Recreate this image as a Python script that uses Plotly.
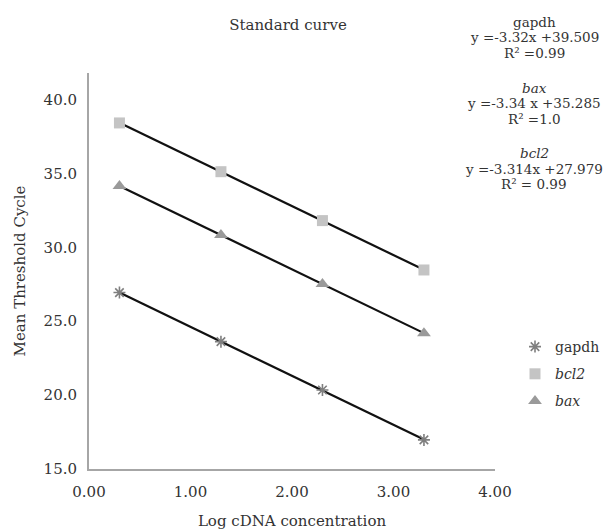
import numpy as np
import plotly.graph_objects as go

# Data
log_conc = [0.3, 1.3, 2.3, 3.3]
gapdh = [26.94, 23.62, 20.35, 16.97]
bcl2 = [38.42, 35.12, 31.81, 28.47]
bax = [34.15, 30.84, 27.52, 24.19]

x_ticks = [0, 1, 2, 3, 4]
x_tick_text = ["0.00", "1.00", "2.00", "3.00", "4.00"]
y_ticks = [15, 20, 25, 30, 35, 40]
y_tick_text = ["15.0", "20.0", "25.0", "30.0", "35.0", "40.0"]

eq_blocks = [
    ("gapdh", "y =-3.32x +39.509", "R² =0.99"),
    ("<i>bax</i>", "y =-3.34 x +35.285", "R² =1.0"),
    ("<i>bcl2</i>", "y =-3.314x +27.979", "R² = 0.99"),
]

FONT = "DejaVu Serif, serif"
TXT = "#333333"
# page body has an 8px margin, so the figure is 8px smaller and offset
W, H = 603, 523
L, R, T, B = 81, 116, 65, 62
PW, PH = W - L - R, H - T - B

fig = go.Figure()

series = [
    ("gapdh", gapdh, dict(symbol="asterisk-open", size=10, color="#7f7f7f",
                         line=dict(width=1.6, color="#7f7f7f"))),
    ("<i>bcl2</i>", bcl2, dict(symbol="square", size=11, color="#c4c4c4",
                              line=dict(width=0))),
    ("<i>bax</i>", bax, dict(symbol="triangle-up", size=12, color="#9a9a9a",
                            line=dict(width=0))),
]

# trendlines (black)
for name, ys, mk in series:
    k, b = np.polyfit(log_conc, ys, 1)
    xs = [min(log_conc), max(log_conc)]
    fig.add_trace(go.Scatter(x=xs, y=[k * v + b for v in xs], mode="lines",
                             line=dict(color="#111111", width=2.2),
                             showlegend=False, hoverinfo="skip"))

for i, (name, ys, mk) in enumerate(series):
    fig.add_trace(go.Scatter(x=log_conc, y=ys, mode="markers", name=name,
                             legendgroup="g%d" % i, marker=mk))

fig.update_layout(
    width=W, height=H,
    margin=dict(l=L, r=R, t=T, b=B, autoexpand=False),
    paper_bgcolor="white", plot_bgcolor="white",
    font=dict(family=FONT, size=15, color=TXT),
    title=dict(text="Standard curve", x=(L + PW / 2 - 4) / W, xanchor="center",
               y=1 - 17 / H, yanchor="middle",
               font=dict(family=FONT, size=15, color=TXT)),
    showlegend=True,
    legend=dict(x=(507 - L) / PW, y=(H - B - 323) / PH, xanchor="left", yanchor="top",
                font=dict(family=FONT, size=14, color=TXT),
                itemwidth=30, tracegroupgap=6, bgcolor="rgba(0,0,0,0)"),
)

fig.update_xaxes(range=[0, 4], tickvals=x_ticks, ticktext=x_tick_text,
                 showgrid=False, zeroline=False, showline=True,
                 linecolor="#a6a6a6", linewidth=2, ticks="",
                 automargin=False, ticklabelstandoff=8,
                 title=dict(text="Log cDNA concentration", standoff=15,
                            font=dict(family=FONT, size=15, color=TXT)),
                 tickfont=dict(family=FONT, size=15, color=TXT))
fig.update_yaxes(range=[15, 41.8], tickvals=y_ticks, ticktext=y_tick_text,
                 showgrid=False, zeroline=False, showline=True,
                 linecolor="#a6a6a6", linewidth=2, ticks="",
                 automargin=False, ticklabelstandoff=7,
                 title=dict(text="Mean Threshold Cycle", standoff=14,
                            font=dict(family=FONT, size=15, color=TXT)),
                 tickfont=dict(family=FONT, size=15, color=TXT))

# equation annotations at top right (figure pixel coords -> paper)
y0 = 22 - 8
for i, (name, eq, r2) in enumerate(eq_blocks):
    for j, t in enumerate([name, eq, r2]):
        py = y0 + i * 65.5 + j * 15.5
        fig.add_annotation(text=t, xref="paper", yref="paper",
                           x=(526 - L) / PW, y=(H - B - py) / PH,
                           xanchor="center", yanchor="middle",
                           showarrow=False,
                           font=dict(family=FONT, size=13.5, color=TXT))

fig.write_html("out.html")
